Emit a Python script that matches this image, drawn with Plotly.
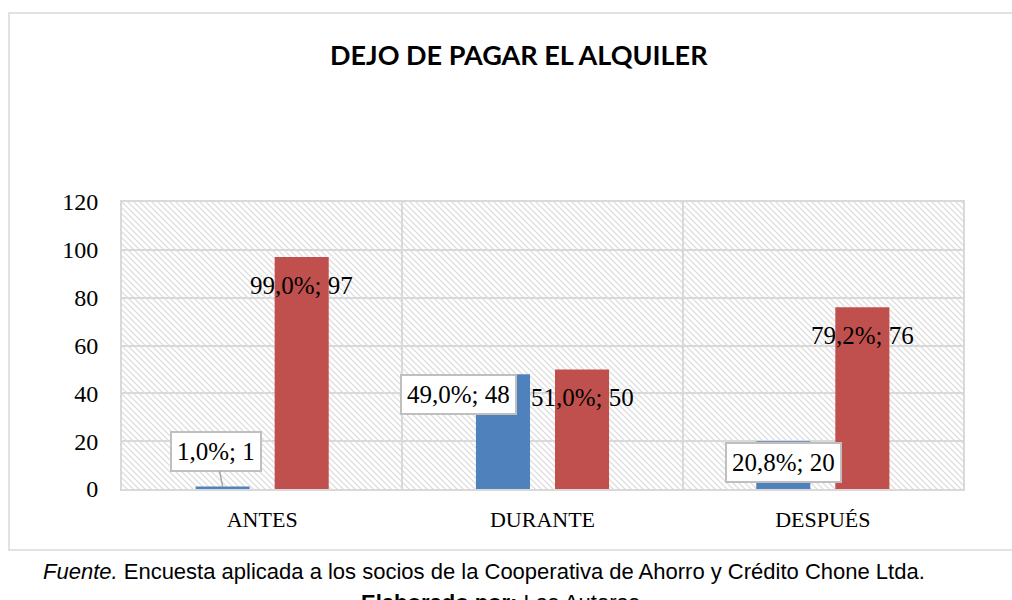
import plotly.graph_objects as go

categories = ["ANTES", "DURANTE", "DESPUÉS"]
si_values = [1, 48, 20]
no_values = [97, 50, 76]
si_pct = ["1,0%", "49,0%", "20,8%"]
no_pct = ["99,0%", "51,0%", "79,2%"]
y_ticks = [0, 20, 40, 60, 80, 100, 120]

title_text = "DEJO DE PAGAR EL ALQUILER"
source_text = "<i>Fuente.</i> Encuesta aplicada a los socios de la Cooperativa de Ahorro y Crédito Chone Ltda."
author_text = "<b>Elaborado por:</b> Las Autoras"

BLUE = "#4F81BD"
RED = "#C0504D"
GRID = "#d9d9d9"
SERIF = "Liberation Serif, DejaVu Serif, serif"
SANS = "Liberation Sans, Arial, sans-serif"

W, H = 1012, 600
L, R, T, B = 122, 49, 202, 111
PW, PH = W - L - R, H - T - B

fig = go.Figure()
fig.add_trace(go.Bar(name="SI", x=categories, y=si_values, marker_color=BLUE,
                     marker_line_width=0))
fig.add_trace(go.Bar(name="NO", x=categories, y=no_values, marker_color=RED,
                     marker_line_width=0))

# hatch background of the plot area
svg = (f"<svg xmlns='http://www.w3.org/2000/svg' width='{PW}' height='{PH}'>"
       "<defs><pattern id='h' patternUnits='userSpaceOnUse' width='6' height='6'>"
       "<path d='M-1,-1 L7,7 M-1,5 L1,7 M5,-1 L7,1' stroke='%23dedede' stroke-width='1.3'/>"
       "</pattern></defs>"
       f"<rect width='{PW}' height='{PH}' fill='white'/>"
       f"<rect width='{PW}' height='{PH}' fill='url(%23h)'/></svg>")
fig.add_layout_image(dict(source="data:image/svg+xml;utf8," + svg.replace("<", "%3C").replace(">", "%3E"),
                          xref="paper", yref="paper", x=0, y=1, sizex=1, sizey=1,
                          sizing="stretch", xanchor="left", yanchor="top", layer="below"))

# data labels
label_font = dict(family=SERIF, size=25, color="black")
box_style = dict(bgcolor="white", bordercolor="#bfbfbf", borderwidth=2, borderpad=5)
box_offsets = [(-46, 35), (-45, -20), (0, -21)]
for i, c in enumerate(categories):
    dx, dy = box_offsets[i]
    txt = f"{si_pct[i]}; {si_values[i]}"
    if i == 0:
        fig.add_annotation(x=c, y=si_values[i], xshift=-39.5, text=txt, font=label_font,
                           showarrow=True, arrowhead=0, arrowcolor="#a6a6a6", arrowwidth=1.5,
                           ax=-7, ay=-35, **box_style)
    else:
        fig.add_annotation(x=c, y=si_values[i], xshift=-39.5 + dx, yshift=dy, text=txt,
                           font=label_font, showarrow=False, **box_style)
    fig.add_annotation(x=c, y=no_values[i], xshift=39.5, yshift=-28,
                       text=f"{no_pct[i]}; {no_values[i]}", font=label_font,
                       showarrow=False)

def px_x(p):
    return (p - L) / PW

def px_y(p):
    return (H - B - p) / PH

# chart frame
fig.add_shape(type="rect", xref="paper", yref="paper",
              x0=px_x(9), x1=px_x(1040), y0=px_y(550), y1=px_y(13),
              line=dict(color=GRID, width=1.5), layer="below")

center = dict(xanchor="center", yanchor="middle", showarrow=False)
fig.add_annotation(xref="paper", yref="paper", x=px_x(519), y=px_y(54),
                   text=f"<b>{title_text}</b>", **center,
                   font=dict(family="Lato, Open Sans, sans-serif", size=27, color="black"))
fig.add_annotation(xref="paper", yref="paper", x=px_x(484), y=px_y(571),
                   text=source_text, **center,
                   font=dict(family=SANS, size=22, color="black"))
fig.add_annotation(xref="paper", yref="paper", x=px_x(500), y=px_y(602),
                   text=author_text, **center,
                   font=dict(family=SANS, size=22, color="black"))

fig.update_layout(
    width=W, height=H,
    margin=dict(l=L, r=R, t=T, b=B),
    barmode="group", bargap=0.436, bargroupgap=0.316,
    plot_bgcolor="rgba(0,0,0,0)", paper_bgcolor="white",
    showlegend=False,
)
fig.update_xaxes(tickson="boundaries", showgrid=True, gridcolor=GRID, gridwidth=2,
                 showline=True, linecolor=GRID, linewidth=2, mirror=True,
                 ticks="", ticklabelstandoff=10,
                 tickfont=dict(family=SERIF, size=22, color="black"))
fig.update_yaxes(range=[0, 120], tickvals=y_ticks, showgrid=True, gridcolor=GRID, gridwidth=2,
                 showline=True, linecolor=GRID, linewidth=2, mirror=True,
                 zeroline=False, ticks="", ticklabelstandoff=17,
                 tickfont=dict(family=SERIF, size=24, color="black"))

fig.write_html("out.html", config={"displayModeBar": False},
               post_script="document.body.style.margin='0';document.body.style.overflow='hidden';")
